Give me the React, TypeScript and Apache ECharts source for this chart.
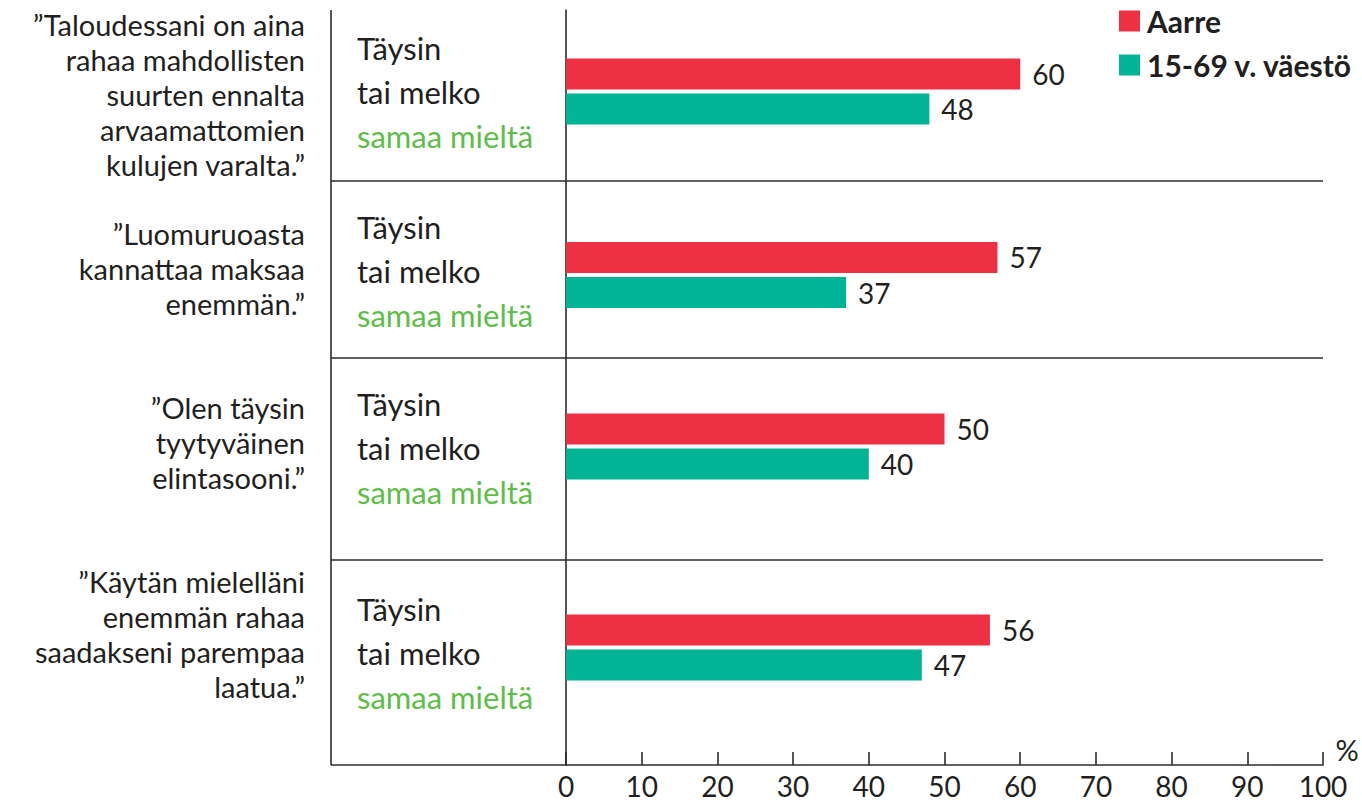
import React, { useEffect, useRef } from "react";
import * as echarts from "echarts";

// ---- data ----
const quotes = [
  "”Taloudessani on aina\nrahaa mahdollisten\nsuurten ennalta\narvaamattomien\nkulujen varalta.”",
  "”Luomuruoasta\nkannattaa maksaa\nenemmän.”",
  "”Olen täysin\ntyytyväinen\nelintasooni.”",
  "”Käytän mielelläni\nenemmän rahaa\nsaadakseni parempaa\nlaatua.”",
];
const answerTop = ["Täysin", "tai melko"];
const answerGreen = "samaa mieltä";
const seriesNames = ["Aarre", "15-69 v. väestö"];
const aarre = [60, 57, 50, 56];
const vaesto = [48, 37, 40, 47];
const axisMin = 0;
const axisMax = 100;
const axisInterval = 10;
const unitLabel = "%";

// ---- layout ----
const W = 1362;
const H = 803;
const plotLeft = 566;
const plotRight = 1323;
const plotTop = 10;
const plotBottom = 765;
const frameLeft = 331;
const separators = [181, 358, 560];
const groupCenters = [91.5, 275, 446.5, 647.5];
const quoteCenters = [94, 268, 442, 634];
const answerCenters = [92, 271, 448, 653];
const RED = "#EE3045";
const TEAL = "#00B495";
const GREEN = "#5DBE48";
const INK = "#231F20";
const LINE = "#2b2b2b";
const FONT = "Lato";

export default function App() {
  const ref = useRef<HTMLDivElement>(null);
  useEffect(() => {
    if (!ref.current) return;
    const chart = echarts.init(ref.current, undefined, { renderer: "svg" });

    const grids: any[] = [];
    const xAxes: any[] = [];
    const yAxes: any[] = [];
    const series: any[] = [];

    // axis grid
    grids.push({ left: plotLeft, right: W - plotRight, top: plotTop, bottom: H - plotBottom });
    xAxes.push({
      gridIndex: 0,
      type: "value",
      min: axisMin,
      max: axisMax,
      interval: axisInterval,
      axisLine: { show: true, lineStyle: { color: LINE, width: 1.6 } },
      axisTick: { show: true, inside: true, length: 13, lineStyle: { color: LINE, width: 1.6 } },
      axisLabel: { fontFamily: FONT, fontSize: 28, color: INK, margin: 7 },
      splitLine: { show: false },
    });
    yAxes.push({
      gridIndex: 0,
      type: "category",
      data: [""],
      axisLine: { show: true, lineStyle: { color: LINE, width: 1.6 } },
      axisTick: { show: false },
      axisLabel: { show: false },
    });

    quotes.forEach((q, i) => {
      const gi = i + 1;
      grids.push({ left: plotLeft, right: W - plotRight, top: groupCenters[i] - 33, height: 66 });
      xAxes.push({ gridIndex: gi, type: "value", min: axisMin, max: axisMax, show: false });
      yAxes.push({ gridIndex: gi, type: "category", data: [q], inverse: true, show: false });
      const label = {
        show: true,
        position: "right",
        distance: 12,
        fontFamily: FONT,
        fontSize: 28,
        color: INK,
      };
      series.push({
        name: seriesNames[0],
        type: "bar",
        xAxisIndex: gi,
        yAxisIndex: gi,
        data: [aarre[i]],
        barWidth: 31,
        barGap: "13%",
        itemStyle: { color: RED },
        label,
      });
      series.push({
        name: seriesNames[1],
        type: "bar",
        xAxisIndex: gi,
        yAxisIndex: gi,
        data: [vaesto[i]],
        barWidth: 31,
        barGap: "13%",
        itemStyle: { color: TEAL },
        label,
      });
    });

    const graphic: any[] = [];
    const lineStyle = { stroke: LINE, lineWidth: 1.6 };
    separators.forEach((y) => {
      graphic.push({ type: "line", shape: { x1: frameLeft, y1: y, x2: plotRight, y2: y }, style: lineStyle });
    });
    graphic.push({ type: "line", shape: { x1: frameLeft, y1: plotTop, x2: frameLeft, y2: plotBottom }, style: lineStyle });
    graphic.push({ type: "line", shape: { x1: frameLeft, y1: plotBottom, x2: plotLeft, y2: plotBottom }, style: lineStyle });
    quotes.forEach((q, i) => {
      graphic.push({
        type: "text",
        style: {
          text: q,
          x: 305,
          y: quoteCenters[i],
          textAlign: "right",
          textVerticalAlign: "middle",
          fontFamily: FONT,
          fontSize: 29,
          lineHeight: 35,
          fill: INK,
        },
      });
      graphic.push({
        type: "text",
        style: {
          text: answerTop.map((t) => `{a|${t}}`).join("\n") + `\n{b|${answerGreen}}`,
          x: 357,
          y: answerCenters[i],
          textAlign: "left",
          textVerticalAlign: "middle",
          fontFamily: FONT,
          fontSize: 31,
          lineHeight: 44,
          rich: {
            a: { fontFamily: FONT, fontSize: 31, lineHeight: 44, fill: INK, color: INK },
            b: { fontFamily: FONT, fontSize: 31, lineHeight: 44, fill: GREEN, color: GREEN },
          },
        },
      });
    });
    graphic.push({
      type: "text",
      style: {
        text: unitLabel,
        x: 1347,
        y: 749,
        textAlign: "center",
        textVerticalAlign: "middle",
        fontFamily: FONT,
        fontSize: 29,
        fill: INK,
      },
    });

    chart.setOption({
      animation: false,
      legend: {
        data: seriesNames,
        orient: "vertical",
        left: 1114,
        top: 1,
        itemWidth: 21,
        itemHeight: 21,
        itemGap: 14,
        icon: "rect",
        textStyle: { fontFamily: FONT, fontSize: 30, fontWeight: "bold", color: INK, padding: [0, 0, 0, 2] },
      },
      grid: grids,
      xAxis: xAxes,
      yAxis: yAxes,
      series,
      graphic,
    });
    return () => chart.dispose();
  }, []);
  return <div ref={ref} style={{ width: W, height: H, position: "absolute", left: 0, top: 0, background: "#fff" }} />;
}
